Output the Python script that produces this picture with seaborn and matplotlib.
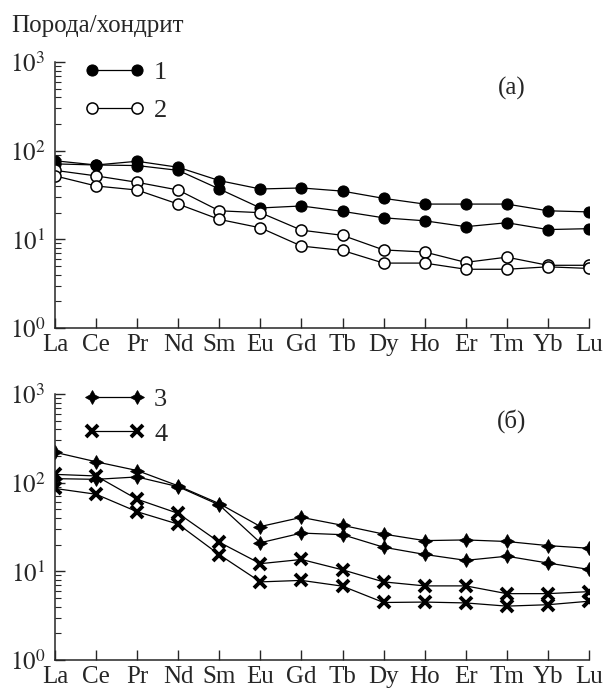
import matplotlib
matplotlib.use("Agg")
import matplotlib.pyplot as plt
import seaborn as sns
import pandas as pd
from matplotlib.ticker import LogLocator, FixedLocator, NullFormatter

# REE spectra normalised to chondrite
elements = ['La', 'Ce', 'Pr', 'Nd', 'Sm', 'Eu', 'Gd', 'Tb', 'Dy', 'Ho', 'Er', 'Tm', 'Yb', 'Lu']

# panel (a): series 1 (filled circles), series 2 (open circles)
s1_upper = [77, 69, 76, 65, 46, 37, 38, 35, 29, 25, 25, 25, 21, 20.4]
s1_lower = [71, 69, 68, 60, 37, 22.6, 23.8, 20.7, 17.5, 16.2, 13.9, 15.4, 12.9, 13.2]
s2_upper = [60, 52, 44, 36, 21, 20, 12.7, 11.1, 7.6, 7.2, 5.5, 6.3, 5.1, 5.1]
s2_lower = [52, 40, 36, 25, 16.8, 13.5, 8.4, 7.5, 5.4, 5.4, 4.6, 4.6, 4.9, 4.7]

# panel (б): series 3 (stars), series 4 (crosses)
s3_upper = [220, 172, 137, 92, 58, 32, 40.6, 33, 26.3, 22.2, 22.6, 21.7, 19.5, 18.2]
s3_lower = [111, 109, 116, 90, 56, 21, 27, 25.9, 18.7, 15.5, 13.3, 14.8, 12.4, 10.5]
s4_upper = [124, 119, 65, 45, 21.3, 12.2, 13.6, 10.4, 7.6, 6.85, 6.85, 5.6, 5.6, 5.9]
s4_lower = [86, 74, 47, 34, 15.4, 7.6, 7.9, 6.8, 4.45, 4.5, 4.4, 4.05, 4.2, 4.6]

sns.set_style('ticks')
plt.rcParams['font.family'] = ['Liberation Serif', 'DejaVu Serif']
plt.rcParams['mathtext.fontset'] = 'stix'

fig = plt.figure(figsize=(6.05, 6.9), dpi=100)
ax_a = fig.add_axes([0.0909, 0.5246, 0.8826, 0.3855])
ax_b = fig.add_axes([0.0909, 0.0435, 0.8826, 0.3855])

circle_full = dict(marker='o', markersize=8, markerfacecolor='black', markeredgecolor='black')
circle_open = dict(marker='o', markersize=8, markerfacecolor='white', markeredgecolor='black',
                   markeredgewidth=1.1)
star = dict(marker=(4, 1, 0), markersize=10, markerfacecolor='black', markeredgecolor='black',
            markeredgewidth=0.6)
cross = dict(marker='x', markersize=8.5, markeredgecolor='black', markeredgewidth=2.8)

panels = [
    (ax_a, [(s1_upper, '1', circle_full), (s1_lower, None, circle_full),
            (s2_upper, '2', circle_open), (s2_lower, None, circle_open)], '(a)', 1.045, 0.55),
    (ax_b, [(s3_upper, '3', star), (s3_lower, None, star),
            (s4_upper, '4', cross), (s4_lower, None, cross)], '(б)', 1.064, 0.42),
]

for ax, lines, tag, leg_y, leg_sp in panels:
    for vals, lab, mstyle in lines:
        df = pd.DataFrame({'element': elements, 'value': vals})
        sns.lineplot(data=df, x='element', y='value', ax=ax, color='black',
                     linewidth=0.9, sort=False, label=lab, legend=False, **mstyle)
    ax.set_yscale('log')
    ax.set_ylim(1, 1000)
    ax.set_xlim(0, 13)
    ax.set_xlabel('')
    ax.set_ylabel('')
    ax.xaxis.set_major_locator(FixedLocator(range(len(elements))))
    ax.set_xticklabels(elements)
    ax.yaxis.set_minor_locator(LogLocator(base=10, subs=range(2, 10), numticks=20))
    ax.yaxis.set_minor_formatter(NullFormatter())
    ax.set_yticks([1, 10, 100, 1000])
    ax.set_yticklabels([r'$10^{0}$', r'$10^{1}$', r'$10^{2}$', r'$10^{3}$'])
    ax.tick_params(axis='both', which='major', direction='in', length=7, width=1,
                   labelsize=18)
    ax.tick_params(axis='x', pad=4)
    ax.tick_params(axis='y', pad=7)
    ax.tick_params(axis='y', which='minor', direction='in', length=4.5, width=0.8)
    sns.despine(ax=ax)
    for side in ['left', 'bottom']:
        ax.spines[side].set_linewidth(1.1)
    handles, labels = ax.get_legend_handles_labels()
    ax.legend(handles, labels, loc='upper left', bbox_to_anchor=(0.035, leg_y), frameon=False,
              numpoints=2, handlelength=2.3, fontsize=19, handletextpad=0.35,
              labelspacing=leg_sp, borderaxespad=0)
    ax.text(0.855, 0.90, tag, transform=ax.transAxes, fontsize=18, ha='center', va='center')

fig.text(0.018, 0.963, 'Порода/хондрит', fontsize=18, ha='left', va='center')

fig.savefig('out.png', dpi=100)
